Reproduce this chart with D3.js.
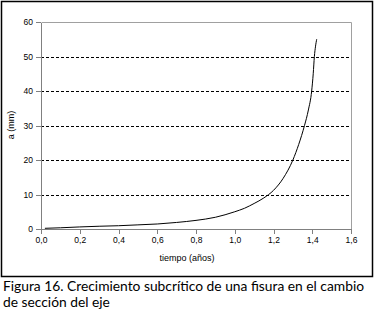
<!DOCTYPE html>
<meta charset="utf-8">
<style>
body { margin: 0; background: #fff; }
.grid line { stroke: #000; stroke-dasharray: 3,2; shape-rendering: crispEdges; }
.grid path { stroke-width: 0; }
.axis path, .axis line { stroke: #808080; shape-rendering: crispEdges; }
.axis text { font-family: "Liberation Sans", Arial, sans-serif; font-size: 8.5px; fill: #000; }
</style>
<body>
<script src="https://d3js.org/d3.v7.min.js"></script>
<script>
// data
var tiempo = [0.02, 0.1, 0.2, 0.3, 0.4, 0.5, 0.6, 0.7, 0.8, 0.9, 1.0, 1.05, 1.1, 1.15, 1.2, 1.25, 1.3, 1.33, 1.36, 1.38, 1.397, 1.405, 1.411, 1.417, 1.423];
var grieta = [0.2, 0.35, 0.6, 0.8, 0.95, 1.2, 1.45, 1.9, 2.5, 3.4, 5.0, 6.0, 7.4, 9.0, 11.2, 14.7, 20, 24.5, 30, 34.5, 40, 45, 50, 53, 55];
var xTicks = [0, 0.2, 0.4, 0.6, 0.8, 1.0, 1.2, 1.4, 1.6];
var yTicks = [0, 10, 20, 30, 40, 50, 60];

var margin = {top: 22, right: 25, bottom: 85, left: 41},
    width = 376 - margin.left - margin.right,
    height = 314 - margin.top - margin.bottom;

var x = d3.scaleLinear().domain([0, 1.6]).range([0, width]);
var y = d3.scaleLinear().domain([0, 60]).range([height, 0]);

var svg = d3.select("body").append("svg")
    .attr("width", 376)
    .attr("height", 314);

// outer frame
svg.append("rect")
    .attr("x", 1.5).attr("y", 1.5)
    .attr("width", 371).attr("height", 275)
    .attr("fill", "none")
    .attr("stroke", "#000")
    .attr("stroke-width", 1.5);

var g = svg.append("g")
    .attr("transform", "translate(" + margin.left + "," + margin.top + ")");

// dashed gridlines
g.append("g")
    .attr("class", "grid")
    .call(d3.axisLeft(y).tickValues(yTicks.slice(1, -1)).tickSize(-width).tickFormat(""));

// plot area border (top, right)
g.append("path")
    .attr("d", "M0.5,0.5H" + (width + 0.5) + "V" + height)
    .attr("fill", "none")
    .attr("stroke", "#a0a0a0");

var comma = function(d) { return d3.format(".1f")(d).replace(".", ","); };

g.append("g")
    .attr("class", "axis")
    .attr("transform", "translate(0," + height + ")")
    .call(d3.axisBottom(x).tickValues(xTicks).tickSize(5).tickSizeOuter(5).tickPadding(3).tickFormat(comma));

g.append("g")
    .attr("class", "axis")
    .call(d3.axisLeft(y).tickValues(yTicks).tickSize(5).tickSizeOuter(0).tickPadding(3));

// curve
var line = d3.line()
    .x(function(d, i) { return x(tiempo[i]); })
    .y(function(d) { return y(d); })
    .curve(d3.curveMonotoneX);

g.append("path")
    .datum(grieta)
    .attr("fill", "none")
    .attr("stroke", "#000")
    .attr("stroke-width", 1)
    .attr("d", line);

// axis titles
svg.append("text")
    .attr("transform", "translate(14,125) rotate(-90)")
    .attr("text-anchor", "middle")
    .style("font-family", "Liberation Sans, Arial, sans-serif")
    .style("font-size", "9px")
    .text("a (mm)");

svg.append("text")
    .attr("x", 187).attr("y", 261)
    .attr("text-anchor", "middle")
    .style("font-family", "Liberation Sans, Arial, sans-serif")
    .style("font-size", "9px")
    .text("tiempo (años)");

// caption
var cap = svg.append("text")
    .style("font-family", "Lato, sans-serif")
    .style("font-size", "13.8px");
cap.append("tspan").attr("x", 3).attr("y", 291)
    .text("Figura 16. Crecimiento subcrítico de una fisura en el cambio");
cap.append("tspan").attr("x", 3).attr("y", 307)
    .text("de sección del eje");
</script>
</body>
